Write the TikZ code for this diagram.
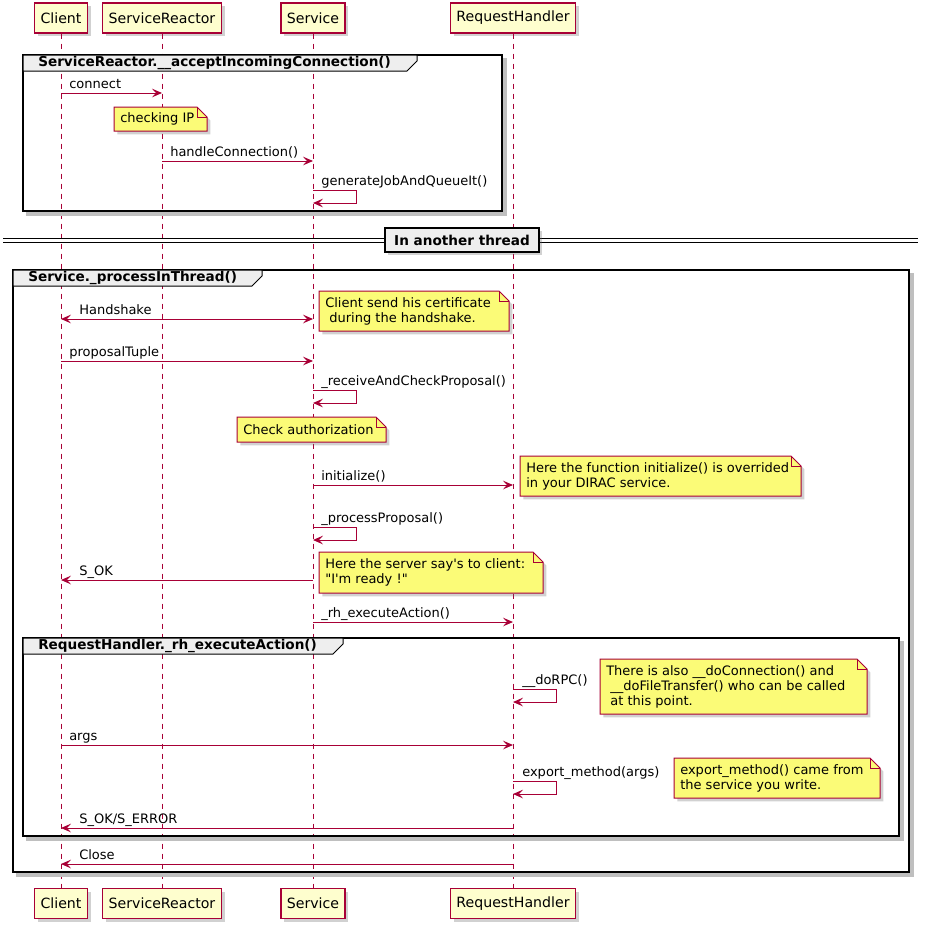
\documentclass[tikz,border=0pt]{standalone}
\usepackage{fontspec}
\setmainfont{DejaVu Sans}[Ligatures=TeXOff]
\usetikzlibrary{arrows.meta,shadows}

\definecolor{umlred}{HTML}{A80036}
\definecolor{partfill}{HTML}{FEFECE}
\definecolor{notefill}{HTML}{FBFB77}
\definecolor{grpfill}{HTML}{EEEEEE}

\tikzset{
    umlshadow/.style={drop shadow={shadow xshift=2.5pt, shadow yshift=-2.5pt, opacity=.3, fill=black!60}},
    part/.style={draw=umlred, fill=partfill, line width=1pt, minimum height=22.5pt, inner xsep=4.5pt, font=\fontsize{10.6}{12}\selectfont, umlshadow},
    life/.style={draw=umlred, line width=.75pt, dash pattern=on 3.75pt off 3.75pt},
    msg/.style={draw=umlred, line width=.75pt, -{Stealth[length=7.5pt,width=6.5pt,inset=3pt]}},
    msgboth/.style={draw=umlred, line width=.75pt, {Stealth[length=7.5pt,width=6.5pt,inset=3pt]}-{Stealth[length=7.5pt,width=6.5pt,inset=3pt]}},
    lbl/.style={anchor=base west, inner sep=0pt, font=\fontsize{9.75}{11.25}\selectfont},
    note/.style={draw=umlred, fill=notefill, line width=.75pt, umlshadow},
    notefold/.style={draw=umlred, line width=.75pt},
    notetxt/.style={anchor=west, inner sep=0pt, align=left, font=\fontsize{9.75}{11.25}\selectfont},
    grp/.style={draw=black, line width=1.5pt},
    grpshadow/.style={draw=black!25, line width=2.5pt},
    grptab/.style={draw=black, fill=grpfill, line width=.75pt},
    grptitle/.style={anchor=west, inner sep=0pt, font=\bfseries\fontsize{10.2}{11.25}\selectfont},
    sepbox/.style={draw=black, fill=grpfill, line width=1pt, minimum width=115.5pt, minimum height=18pt, font=\bfseries\fontsize{10.2}{11.25}\selectfont, umlshadow},
}

\begin{document}
\begin{tikzpicture}[x=0.75pt, y=-0.75pt]
    \useasboundingbox (0,0) rectangle (930,929);

    % participants
    \node[part] (ct) at (61,18) {Client};
    \node[part] (srt) at (162,18) {ServiceReactor};
    \node[part] (st) at (313,18) {Service};
    \node[part] (rht) at (513,18) {RequestHandler};

    \node[part] (cb) at (61,903.5) {Client};
    \node[part] (srb) at (162,903.5) {ServiceReactor};
    \node[part] (sb) at (313,903.5) {Service};
    \node[part] (rhb) at (513,903.5) {RequestHandler};

    \draw[life] (ct) -- (cb);
    \draw[life] (srt) -- (srb);
    \draw[life] (st) -- (sb);
    \draw[life] (rht) -- (rhb);

    % groups
    \draw[grpshadow] (505,58) -- (505,214) -- (26,214);
    \draw[grp] (23,55) rectangle (502,211);
    \filldraw[grptab] (23,55) -- (417,55) -- (417,61) -- (407,71) -- (23,71) -- cycle;
    \node[grptitle] (g1) at (38,63) {ServiceReactor.\_\_acceptIncomingConnection()};

    \draw[grpshadow] (912,273) -- (912,875) -- (16,875);
    \draw[grp] (13,270) rectangle (909,872);
    \filldraw[grptab] (13,270) -- (262,270) -- (262,276) -- (252,286) -- (13,286) -- cycle;
    \node[grptitle] (g2) at (28,278) {Service.\_processInThread()};

    \draw[grpshadow] (902,641) -- (902,839) -- (26,839);
    \draw[grp] (23,638) rectangle (899,836);
    \filldraw[grptab] (23,638) -- (343,638) -- (343,644) -- (333,654) -- (23,654) -- cycle;
    \node[grptitle] (g3) at (38,646) {RequestHandler.\_rh\_executeAction()};

    % separator
    \draw[black, line width=.75pt] (3,238.5) -- (918,238.5);
    \draw[black, line width=.75pt] (3,242) -- (918,242);
    \node[sepbox] (sep) at (462,240) {In another thread};

    % messages
    \draw[msg] (ct |- 0,93) -- (srt |- 0,93);
    \node[lbl] (m1) at (69,88.5) {connect};
    \draw[msg] (srt |- 0,161) -- (st |- 0,161);
    \node[lbl] (m2) at (170,156.5) {handleConnection()};
    \draw[msg] (st |- 0,190) -- ++(43,0) -- ++(0,13) -- (st |- 0,203);
    \node[lbl] (m3) at (321,185.5) {generateJobAndQueueIt()};

    \draw[msgboth] (ct |- 0,319) -- (st |- 0,319);
    \node[lbl] (m4) at (79,314.5) {Handshake};
    \draw[msg] (ct |- 0,361) -- (st |- 0,361);
    \node[lbl] (m5) at (69,356.5) {proposalTuple};
    \draw[msg] (st |- 0,390) -- ++(43,0) -- ++(0,13) -- (st |- 0,403);
    \node[lbl] (m6) at (321,385.5) {\_receiveAndCheckProposal()};
    \draw[msg] (st |- 0,485) -- (rht |- 0,485);
    \node[lbl] (m7) at (321,480.5) {initialize()};
    \draw[msg] (st |- 0,527) -- ++(43,0) -- ++(0,13) -- (st |- 0,540);
    \node[lbl] (m8) at (321,522.5) {\_processProposal()};
    \draw[msg] (st |- 0,580) -- (ct |- 0,580);
    \node[lbl] (m9) at (79,575.5) {S\_OK};
    \draw[msg] (st |- 0,622) -- (rht |- 0,622);
    \node[lbl] (m10) at (321,617.5) {\_rh\_executeAction()};

    \draw[msg] (rht |- 0,689) -- ++(43,0) -- ++(0,13) -- (rht |- 0,702);
    \node[lbl] (m11) at (522,684.5) {\_\_doRPC()};
    \draw[msg] (ct |- 0,745) -- (rht |- 0,745);
    \node[lbl] (m12) at (69,740.5) {args};
    \draw[msg] (rht |- 0,781) -- ++(43,0) -- ++(0,13) -- (rht |- 0,794);
    \node[lbl] (m13) at (522,776.5) {export\_method(args)};
    \draw[msg] (rht |- 0,828) -- (ct |- 0,828);
    \node[lbl] (m14) at (79,823.5) {S\_OK/S\_ERROR};
    \draw[msg] (rht |- 0,864) -- (ct |- 0,864);
    \node[lbl] (m15) at (79,859.5) {Close};

    % notes
    \filldraw[note] (114,107) -- (197,107) -- (207,117) -- (207,131) -- (114,131) -- cycle;
    \draw[notefold] (197,107) -- (197,117) -- (207,117);
    \node[notetxt] (n1) at (120,119) {checking IP};

    \filldraw[note] (319,291) -- (499,291) -- (509,301) -- (509,331) -- (319,331) -- cycle;
    \draw[notefold] (499,291) -- (499,301) -- (509,301);
    \node[notetxt] (n2) at (325,311) {Client send his certificate\\\ during the handshake.};

    \filldraw[note] (237,417) -- (376,417) -- (386,427) -- (386,442) -- (237,442) -- cycle;
    \draw[notefold] (376,417) -- (376,427) -- (386,427);
    \node[notetxt] (n3) at (243,429.5) {Check authorization};

    \filldraw[note] (520,456) -- (791,456) -- (801,466) -- (801,496) -- (520,496) -- cycle;
    \draw[notefold] (791,456) -- (791,466) -- (801,466);
    \node[notetxt] (n4) at (526,476) {Here the function initialize() is overrided\\in your DIRAC service.};

    \filldraw[note] (319,552) -- (533,552) -- (543,562) -- (543,593) -- (319,593) -- cycle;
    \draw[notefold] (533,552) -- (533,562) -- (543,562);
    \node[notetxt] (n5) at (325,572.5) {Here the server say's to client:\\"I'm ready !"};

    \filldraw[note] (600,659) -- (857,659) -- (867,669) -- (867,714) -- (600,714) -- cycle;
    \draw[notefold] (857,659) -- (857,669) -- (867,669);
    \node[notetxt] (n6) at (606,686.5) {There is also \_\_doConnection() and\\\ \_\_doFileTransfer() who can be called\\\ at this point.};

    \filldraw[note] (674,758) -- (870,758) -- (880,768) -- (880,798) -- (674,798) -- cycle;
    \draw[notefold] (870,758) -- (870,768) -- (880,768);
    \node[notetxt] (n7) at (680,778) {export\_method() came from\\the service you write.};
\end{tikzpicture}
\end{document}
